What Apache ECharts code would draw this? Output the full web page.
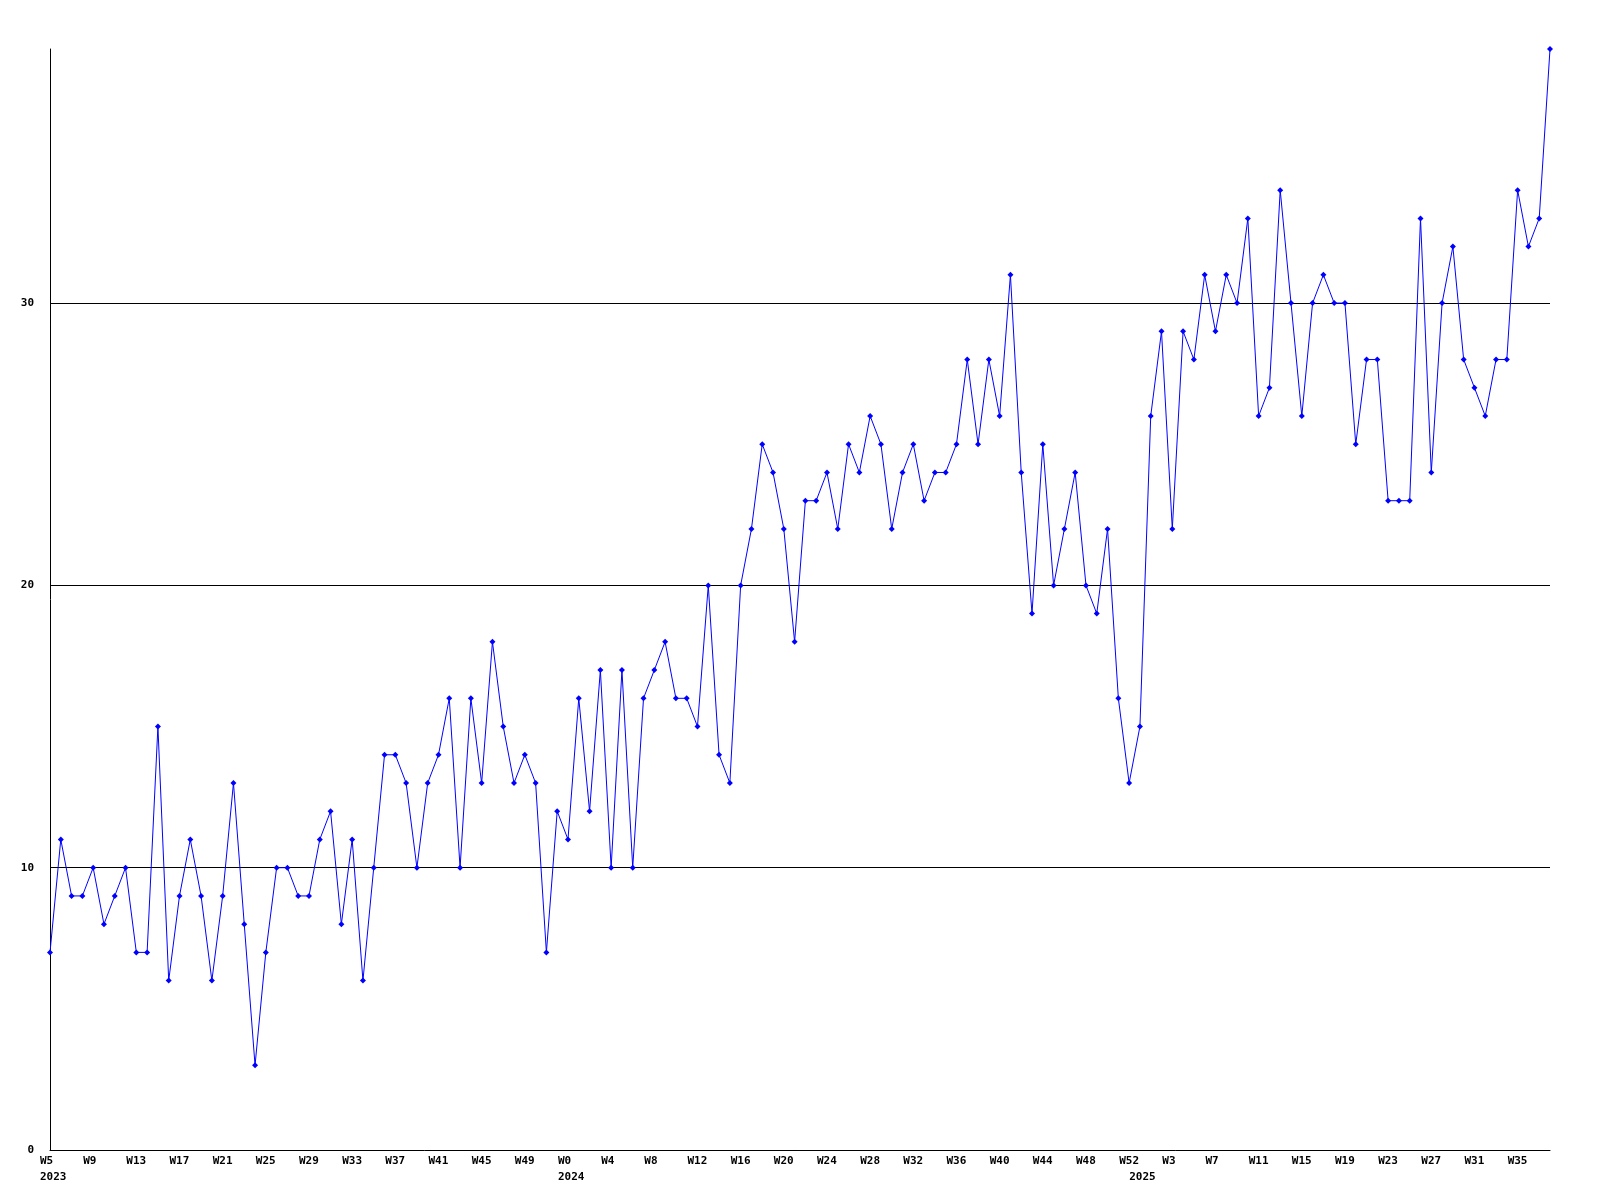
<!DOCTYPE html>
<html>
<head>
<meta charset="utf-8">
<script src="https://cdn.jsdelivr.net/npm/echarts@6/dist/echarts.min.js"></script>
<style>
html,body{margin:0;padding:0;background:#fff}
#c{width:1600px;height:1200px}
</style>
</head>
<body>
<div id="c"></div>
<script>
// Week ranges per year
const years = [2023, 2024, 2025];
const firstWeek = [5, 0, 0];
const lastWeek = [52, 52, 38];

// Series values per year (weekly)
const values2023 = [7, 11, 9, 9, 10, 8, 9, 10, 7, 7, 15, 6, 9, 11, 9, 6, 9, 13, 8, 3, 7, 10, 10, 9,
  9, 11, 12, 8, 11, 6, 10, 14, 14, 13, 10, 13, 14, 16, 10, 16, 13, 18, 15, 13, 14, 13, 7, 12];
const values2024 = [11, 16, 12, 17, 10, 17, 10, 16, 17, 18, 16, 16, 15, 20, 14, 13, 20, 22, 25, 24, 22, 18, 23,
  23, 24, 22, 25, 24, 26, 25, 22, 24, 25, 23, 24, 24, 25, 28, 25, 28, 26, 31, 24, 19,
  25, 20, 22, 24, 20, 19, 22, 16, 13];
const values2025 = [15, 26, 29, 22, 29, 28, 31, 29, 31, 30, 33, 26, 27, 34, 30, 26,
  30, 31, 30, 30, 25, 28, 28, 23, 23, 23, 33, 24, 30, 32, 28, 27, 26, 28, 28, 34, 32, 33, 39];

// Y tick labels
const yTicks = [0, 10, 20, 30];
const yMax = 39;

// Year labels: category where each year label is shown
const yearLabelCats = ['2023 W5', '2024 W0', '2024 W52'];
const yearLabelText = ['2023', '2024', '2025'];

// Categories
const categories = [];
years.forEach((y, i) => {
  for (let w = firstWeek[i]; w <= lastWeek[i]; w++) {
    categories.push(y + ' W' + w);
  }
});
const values = values2023.concat(values2024, values2025);

const FONT = '"DejaVu Sans Mono", "Liberation Mono", monospace';
const baseText = {
  fontFamily: FONT,
  fontWeight: 'bold',
  fontSize: 11,
  lineHeight: 16,
  color: '#000',
  align: 'left'
};
const chart = echarts.init(document.getElementById('c'), null, {renderer: 'canvas'});
chart.setOption({
  animation: false,
  backgroundColor: '#ffffff',
  grid: {left: 50, right: 50, top: 49, bottom: 50, containLabel: false},
  xAxis: {
    type: 'category',
    data: categories,
    boundaryGap: false,
    axisLine: {show: true, lineStyle: {color: '#000', width: 1}},
    axisTick: {show: false},
    splitLine: {show: false},
    axisLabel: {
      interval: 3,
      margin: 3,
      formatter: function (val, idx) {
        const wk = val.split(' ')[1];
        let s = '{a|' + wk + '}';
        const yi = yearLabelCats.indexOf(val);
        if (yi >= 0) {
          // a year label that falls mid-week sits at the tick itself
          const style = yi === 2 ? 'y' : 'a';
          s += '\n{' + style + '|' + yearLabelText[yi] + '}';
        }
        return s;
      },
      rich: {
        a: Object.assign({width: 20}, baseText),
        y: Object.assign({width: 10, padding: [0, 0, 0, 10]}, baseText)
      }
    }
  },
  yAxis: {
    type: 'value',
    min: 0,
    max: yMax,
    interval: 10,
    axisLine: {show: true, lineStyle: {color: '#000', width: 1}},
    axisTick: {show: false},
    splitLine: {show: false},
    axisLabel: {
      showMaxLabel: false,
      margin: 16,
      fontFamily: FONT,
      fontWeight: 'bold',
      fontSize: 11,
      color: '#000',
      formatter: function (v) { return yTicks.indexOf(v) >= 0 ? String(v) : ''; }
    }
  },
  series: [{
    type: 'line',
    data: values,
    color: '#0000ff',
    lineStyle: {color: '#0000ff', width: 1},
    itemStyle: {color: '#0000ff'},
    symbol: 'diamond',
    symbolSize: 6,
    showAllSymbol: true,
    z: 3,
    markLine: {
      silent: true,
      z: 1,
      symbol: ['none', 'none'],
      label: {show: false},
      lineStyle: {color: '#000', width: 1, type: 'solid'},
      emphasis: {disabled: true},
      data: yTicks.filter(v => v > 0).map(v => ({yAxis: v}))
    }
  }]
});
</script>
</body>
</html>
